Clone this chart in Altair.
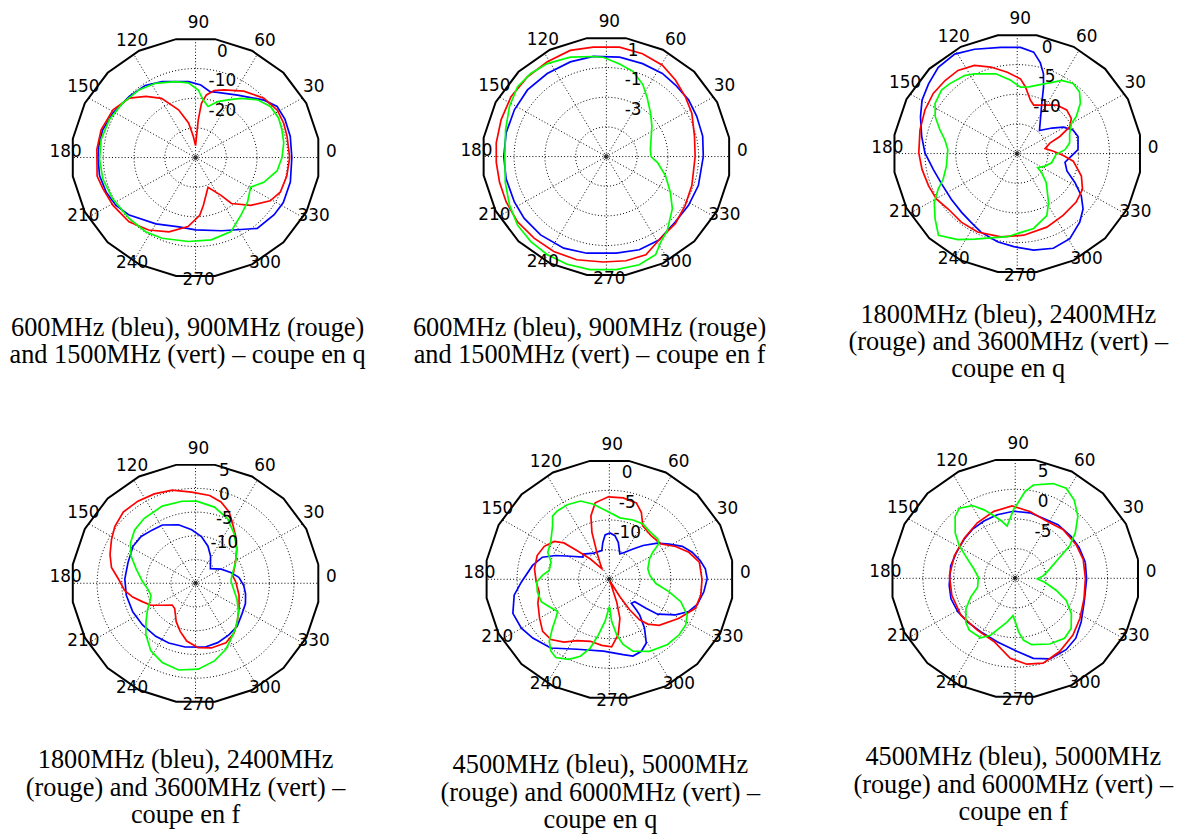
import altair as alt
import pandas as pd

# ---------------- grid / labels ----------------
ANGLE_TICKS = [0, 30, 60, 90, 120, 150, 180, 210, 240, 270, 300, 330]
RING_ANGLES = list(range(0, 361, 3))
OUTER_ANGLES = [9 + 18 * k for k in range(21)]
SERIES = ["bleu", "rouge", "vert"]
COLORS = ["#0000ff", "#ff0000", "#00ff00"]

# ---------------- panel 1 : 600/900/1500 MHz, coupe en q ----------------
P1_BLUE_ANG = [0, 13, 24, 33, 41, 57, 72, 78, 86, 95, 113, 124, 136, 151, 163, 173, 180, 191, 202, 212, 222, 240, 257, 270, 289, 310, 323, 332, 345]
P1_BLUE_DB = [1.3, 1.6, 1.8, 1.6, -0.5, -4.9, -6.9, -7.3, -5.5, -4.3, -2.2, -0.7, -0.2, 0.8, 1.6, 1.7, 1.7, 1.8, 1.3, 0.5, -1.0, -4.2, -6.0, -5.6, -3.9, 1.2, 2.0, 2.3, 1.9]
P1_RED_ANG = [0, 13.7, 22, 31, 42, 55, 68, 75, 80.5, 84, 86, 87.5, 90, 96, 101, 109, 119, 128, 137, 149, 163, 175, 191, 199, 211, 225, 238, 251, 264, 274, 279, 292, 303, 307, 318, 329, 337, 348]
P1_RED_DB = [0.6, 0.6, 0.9, 1.0, -0.1, -2.7, -5.4, -6.6, -8.6, -11.6, -17.2, -22.8, -26.0, -22.7, -18.1, -13.0, -7.2, -3.8, -0.6, 1.3, 2.1, 2.2, 2.6, 1.9, 1.3, 0.6, -1.2, -3.5, -6.6, -10.5, -13.7, -19.2, -14.8, -10.6, -5.9, -1.7, -0.1, 0.3]
P1_GREEN_ANG = [0, 9.9, 18.6, 26.3, 35.3, 44, 53.6, 61.7, 69, 76.7, 82.8, 87.8, 95.3, 104.5, 117.5, 128.9, 142.3, 155.5, 168.7, 181, 193.5, 207.3, 223.6, 237, 248.2, 265.3, 280.4, 294.8, 307.2, 318.4, 330.9, 339.4, 350.5]
P1_GREEN_DB = [-1.9, -0.9, -0.4, 0.1, -0.2, -2.0, -5.2, -7.9, -9.8, -12.3, -10.4, -7.2, -4.7, -3.6, -1.8, -0.7, 0.0, 0.8, 1.3, 1.2, 1.0, 0.3, -0.2, -0.2, -0.7, -1.6, -1.8, -2.5, -5.6, -7.4, -9.5, -6.3, -3.1]

# ---------------- panel 2 : 600/900/1500 MHz, coupe en f ----------------
P2_BLUE_ANG = [0, 12.4, 24.8, 35.6, 47, 57, 69.4, 82.7, 97.2, 110.2, 124.5, 138.8, 152.2, 166.2, 180, 193, 207.1, 218, 231, 245.8, 258.9, 275.6, 288.8, 301.3, 315.6, 328.4, 341.9]
P2_BLUE_DB = [1.3, 1.41, 1.47, 1.57, 1.59, 1.68, 1.69, 1.76, 1.81, 1.8, 1.79, 1.82, 1.76, 1.71, 1.67, 1.69, 1.72, 1.78, 1.8, 1.77, 1.64, 1.54, 1.64, 1.58, 1.28, 1.27, 1.29]
P2_RED_ANG = [0, 13.5, 27.8, 38.3, 49, 59.4, 71.3, 83.4, 96.6, 108.2, 121, 133.6, 146.9, 160, 172.6, 183.2, 194, 205.2, 217.3, 229.5, 241.9, 254.5, 268.3, 280.3, 291.2, 302.6, 314.9, 327.3, 340.6]
P2_RED_DB = [0.77, 0.89, 1.28, 1.53, 1.84, 2.15, 2.32, 2.42, 2.42, 2.53, 2.45, 2.43, 2.4, 2.28, 2.22, 2.17, 2.16, 2.2, 2.26, 2.24, 2.26, 2.22, 2.11, 2.14, 2.1, 1.54, 1.36, 1.09, 0.89]
P2_GREEN_ANG = [0, 9.6, 34.7, 45.5, 56.6, 64, 73.3, 82.2, 91.8, 97.2, 109.3, 121.5, 131.3, 140.8, 151.8, 164.5, 179.6, 194.8, 207.5, 218.7, 229.4, 239.9, 250.6, 262, 274.8, 286.3, 295.8, 301.6, 308, 320.6, 330, 341.5, 353]
P2_GREEN_DB = [-2.1, -2.1, -1.4, -0.9, -0.2, 0.4, 1.0, 1.3, 1.7, 1.8, 2.1, 2.35, 2.45, 2.45, 2.15, 1.8, 1.6, 1.8, 2.1, 2.4, 2.55, 2.65, 2.7, 2.7, 2.65, 2.6, 2.35, 1.75, 1.4, 0.55, -0.2, -0.95, -1.65]

# ---------------- panel 3 : 1800/2400/3600 MHz, coupe en q ----------------
P3_BLUE_ANG = [3.9, 16.3, 23.8, 30.7, 37.3, 47, 64.6, 69.1, 72.4, 76.3, 81.1, 88.3, 98.5, 111.5, 121.2, 131.4, 140.8, 149.8, 158.5, 169.4, 179.6, 191, 202.8, 215.7, 227.4, 237.1, 246, 257.8, 268, 279.3, 290.2, 300.8, 311.3, 318.9, 325.7, 332.4, 340, 349.4, 357.1]
P3_BLUE_DB = [-5.1, -4.7, -5.1, -6.3, -7.9, -9.7, -5.7, -3.0, -0.9, 0.8, 2.3, 2.9, 3.1, 3.9, 4.6, 4.4, 3.6, 2.9, 1.9, 0.8, 0.0, -1.1, -1.7, -1.8, -1.6, -1.2, -0.5, 0.2, 0.7, 1.5, 2.0, 1.7, 0.4, -0.8, -2.4, -4.4, -6.4, -7.1, -6.2]
P3_RED_ANG = [3.8, 10.4, 18.4, 22.6, 28, 34, 42.5, 51.9, 62.4, 71.9, 76.6, 83.2, 87.6, 96.7, 106.4, 115.1, 124.5, 133.6, 143.4, 153.9, 165.8, 179.6, 189.8, 200.7, 210.4, 219.8, 231.8, 244, 259.3, 274.4, 291.2, 305.6, 319.5, 330.4, 340, 352, 357.4]
P3_RED_DB = [-9.1, -10.4, -9.4, -7.5, -5.3, -4.4, -4.1, -4.6, -5.8, -6.4, -5.75, -3.7, -2.4, -1.2, 0.2, 1.4, 2.0, 2.0, 2.0, 1.7, 1.3, 1.0, 0.7, 0.4, 0.2, -0.4, -0.3, -0.3, -0.7, -1.2, -1.7, -2.2, -2.4, -2.8, -3.9, -5.8, -7.5]
P3_GREEN_ANG = [4.9, 11.8, 22, 30.1, 32.9, 39.5, 45.7, 52.4, 59.7, 64, 72.2, 80.5, 87.3, 94.9, 104.5, 117.3, 123, 132.9, 139, 147.7, 155, 162.3, 168.8, 176.6, 190.4, 199.8, 205.1, 211.4, 219.5, 227.1, 236.4, 244.3, 263.5, 281.9, 294.7, 301.7, 313.9, 321.1, 324.2, 335, 344.5, 358.5]
P3_GREEN_DB = [-7.2, -6.3, -5.8, -4.8, -3.6, -1.7, -0.5, -0.1, -0.7, -1.6, -2.8, -3.6, -3.8, -2.6, -1.1, 0.1, 0.7, 1.1, 1.3, 0.8, -0.3, -1.8, -3.0, -3.7, -3.3, -2.2, -0.8, 0.8, 2.3, 3.8, 2.4, 1.0, -0.9, -2.1, -3.5, -5.3, -8.2, -9.9, -10.9, -10.0, -9.2, -8.7]

# ---------------- panel 4 : 1800/2400/3600 MHz, coupe en f ----------------
P4_BLUE_ANG = [8, 17.6, 29.8, 45.5, 62, 72.1, 83.1, 94, 105.7, 118.8, 127.9, 138.3, 148.5, 162.4, 176.4, 190.3, 205.2, 219.2, 234.1, 246.6, 261, 277.9, 289.8, 302.2, 313, 326.2, 337.1, 347.7, 357.2]
P4_BLUE_DB = [-6.1, -7.5, -9.0, -10.7, -8.5, -6.8, -5.1, -3.7, -2.2, -1.0, -0.75, -0.2, -0.1, -0.6, -0.6, -0.7, -0.9, -1.1, -1.2, -1.3, -1.4, -1.4, -1.7, -2.2, -2.6, -3.6, -4.0, -4.6, -5.2]
P4_RED_ANG = [1.5, 11.9, 20.7, 31.7, 40.4, 50.4, 59.3, 65.6, 73.2, 81.2, 92.4, 103.6, 114, 124.1, 134.4, 143.9, 151.7, 160.8, 169, 176.7, 186, 192.8, 200.1, 207, 214.4, 224, 231.4, 244.1, 252.9, 261.6, 272.2, 283.2, 296.2, 306.7, 316.4, 329, 343.9]
P4_RED_DB = [-6.8, -7.3, -6.6, -5.4, -4.0, -2.2, -0.3, 1.5, 2.9, 3.7, 4.2, 5.2, 5.6, 5.9, 6.0, 5.3, 4.4, 3.4, 2.4, 0.7, -0.5, -1.9, -3.6, -4.8, -6.8, -8.4, -8.2, -6.0, -4.4, -2.7, -1.4, -1.0, -1.0, -1.9, -3.3, -4.7, -5.8]
P4_GREEN_ANG = [4.4, 14.4, 28, 40.4, 53.4, 64.6, 76.5, 89.3, 99.1, 112.6, 127.3, 137.8, 147.4, 156.3, 166.2, 178.9, 186.9, 195.7, 202.9, 210.1, 218.7, 227, 237.5, 247.9, 259.3, 271.7, 283.2, 293.9, 303.9, 313.7, 325.4, 338.8, 351.3]
P4_GREEN_DB = [-7.8, -7.3, -5.8, -4.0, -1.9, 0.1, 1.5, 2.3, 2.5, 2.6, 2.2, 1.7, 0.7, -0.7, -2.6, -4.3, -5.2, -5.6, -4.9, -3.7, -2.1, -0.2, 1.9, 3.0, 3.6, 3.1, 1.8, 0.2, -1.6, -2.9, -4.4, -6.0, -7.2]

# ---------------- panel 5 : 4500/5000/6000 MHz, coupe en q ----------------
P5_BLUE_ANG = [0.4, 6.5, 12.1, 18.7, 25.1, 31.4, 37.9, 46.1, 53, 61.1, 68.2, 76.9, 83, 89.2, 95.3, 99.7, 104.3, 120, 135, 138.9, 148.3, 155.3, 161.1, 169.4, 181.8, 189.8, 200.1, 209.9, 218.5, 230.5, 246.1, 265.5, 280, 286.5, 293.2, 299.2, 304.8, 309.3, 310.3, 311.4, 317.4, 320.7, 323.1, 330.9, 337.2, 343.5, 352.2]
P5_BLUE_DB = [0.9, 0.7, 0.1, -0.8, -1.9, -3.6, -5.1, -7.1, -8.6, -9.8, -10.4, -8.6, -7.6, -7.2, -7.5, -8.7, -10.0, -9.9, -9.0, -9.3, -7.6, -5.4, -3.5, -2.3, -0.7, 0.7, 1.7, 1.5, 0.9, 0.0, -2.1, -2.85, -2.1, -1.5, -1.8, -2.7, -5.0, -7.2, -8.2, -9.6, -9.4, -7.3, -5.2, -2.7, -1.0, -0.1, 0.5]
P5_RED_ANG = [0, 11.2, 19.4, 27.2, 35.3, 47.3, 58.8, 65.2, 71.2, 80.7, 90.7, 100.1, 105.7, 109.7, 114, 124.6, 132, 137.3, 140.3, 144.5, 152.3, 161.2, 171.7, 182.1, 190.5, 199.2, 210, 219, 226.9, 235.1, 243.1, 253.5, 263.7, 271.9, 278.8, 284.6, 287.3, 287.6, 300.2, 302.7, 305.7, 309.6, 316.2, 329.9, 340.7, 349.9]
P5_RED_DB = [0.06, -0.1, -1.3, -2.9, -4.7, -5.0, -4.5, -2.6, -1.4, -1.1, -1.1, -1.9, -3.9, -6.6, -10.0, -12.8, -10.4, -7.9, -5.4, -4.0, -3.05, -2.6, -2.7, -3.1, -3.4, -2.7, -1.9, -1.05, -1.1, -2.1, -3.4, -4.1, -3.8, -3.6, -5.6, -8.2, -11.0, -14.65, -11.6, -8.9, -6.6, -5.2, -3.8, -1.9, -0.2, 0.1]
P5_GREEN_ANG = [5.8, 15.9, 27.9, 32.9, 36.6, 40.8, 51.4, 59.6, 69, 80.6, 92.1, 101.5, 109.6, 118.5, 126.3, 130.9, 135.7, 146.8, 155.6, 163.1, 171.3, 176.5, 182.2, 190.2, 198.8, 205.3, 212.8, 217, 221.7, 226.9, 231.9, 236.6, 244, 250, 255, 259.3, 264.4, 270, 273, 277.2, 281.5, 287.6, 298.3, 310.7, 320.5, 328.2, 334.6, 342, 347.7, 354.6]
P5_GREEN_DB = [-8.4, -8.5, -7.6, -6.6, -5.0, -4.6, -4.6, -4.2, -4.3, -4.5, -3.5, -2.1, -1.0, -0.7, -0.7, -0.9, -2.1, -3.6, -4.0, -5.1, -5.1, -4.1, -3.2, -3.1, -3.3, -4.2, -5.0, -4.1, -2.6, -0.7, 0.4, 0.8, 0.0, -1.2, -3.0, -5.5, -7.9, -10.4, -7.9, -5.6, -3.8, -2.3, -1.2, -0.5, -0.3, -0.4, -1.0, -2.8, -5.05, -7.4]

# ---------------- panel 6 : 4500/5000/6000 MHz, coupe en f ----------------
P6_BLUE_ANG = [13.2, 26.4, 38, 52.5, 65.9, 77.7, 91.4, 105.3, 117.8, 130.2, 141.6, 155.7, 168.7, 186.5, 198.3, 211.2, 223.4, 238, 254.6, 271.2, 282.3, 292.5, 304.5, 314.3, 325.5, 340.4, 359.4]
P6_BLUE_DB = [1.7, 1.6, 1.5, 1.4, 1.1, 1.3, 1.3, 1.1, 0.9, 0.8, 0.6, 0.5, 0.7, 0.8, 1.0, 0.9, 0.7, 0.6, 1.1, 2.3, 3.8, 4.7, 4.6, 4.1, 3.0, 1.9, 1.6]
P6_RED_ANG = [0, 16.2, 30, 46.7, 62.2, 78, 92.5, 107.1, 123.4, 140.5, 159, 177.6, 195.6, 215.2, 234.8, 252, 266.6, 277.4, 287.6, 300.3, 314.4, 327.2, 342.9]
P6_RED_DB = [1.4, 1.5, 1.4, 1.3, 0.9, 1.5, 2.2, 1.8, 1.2, 0.7, 0.6, 0.7, 0.7, 0.8, 0.7, 1.2, 3.5, 4.6, 5.0, 4.3, 3.4, 2.5, 1.7]
P6_GREEN_ANG = [5.6, 15.5, 25.9, 31.7, 38.1, 45.8, 54, 61.4, 69, 79.4, 83.8, 88.8, 91.3, 94.5, 98.6, 102.5, 108.2, 113.7, 119.6, 127.5, 133.1, 141.9, 149, 157.4, 166.9, 178.4, 193.7, 203.7, 212.5, 222.5, 229.4, 240.7, 247.3, 252.5, 259.7, 266.6, 270, 273.4, 277.3, 283.4, 296.8, 308.4, 317.1, 326.8, 335.8, 342.9, 352.1, 358.2]
P6_GREEN_DB = [-5.4, -4.2, -2.0, 0.4, 2.4, 4.6, 6.3, 7.3, 7.1, 6.0, 4.7, 2.4, 1.6, 0.2, -1.1, -0.2, 1.1, 2.6, 4.1, 4.9, 4.3, 2.4, 0.6, -1.6, -3.1, -4.0, -3.7, -2.1, -0.5, 0.9, 1.5, 1.5, 0.4, -1.1, -2.5, -3.7, -2.7, -1.0, 0.5, 1.5, 2.4, 2.9, 2.4, 0.9, -0.9, -3.0, -5.15, -6.4]

CAPTIONS = [
    ["600MHz (bleu), 900MHz (rouge)", "and 1500MHz (vert) \u2013 coupe en q"],
    ["600MHz (bleu), 900MHz (rouge)", "and 1500MHz (vert) \u2013 coupe en f"],
    ["1800MHz (bleu), 2400MHz", "(rouge) and 3600MHz (vert) \u2013", "coupe en q"],
    ["1800MHz (bleu), 2400MHz", "(rouge) and 3600MHz (vert) \u2013", "coupe en f"],
    ["4500MHz (bleu), 5000MHz", "(rouge) and 6000MHz (vert) \u2013", "coupe en q"],
    ["4500MHz (bleu), 5000MHz", "(rouge) and 6000MHz (vert) \u2013", "coupe en f"],
]

PANELS = [
    dict(rmin=-30, rmax=10, rings=[-20, -10, 0], labels=["-20", "-10", "0"],
         curves=[(P1_BLUE_ANG, P1_BLUE_DB), (P1_RED_ANG, P1_RED_DB), (P1_GREEN_ANG, P1_GREEN_DB)],
         cap_dx=-8, cap_off=15, lab_dx=27, sx=0, sy=0),
    dict(rmin=-5, rmax=3, rings=[-3, -1, 1], labels=["-3", "-1", "1"],
         curves=[(P2_BLUE_ANG, P2_BLUE_DB), (P2_RED_ANG, P2_RED_DB), (P2_GREEN_ANG, P2_GREEN_DB)],
         cap_dx=-17, cap_off=15, lab_dx=27, sx=0, sy=-1),
    dict(rmin=-15, rmax=5, rings=[-10, -5, 0], labels=["-10", "-5", "0"],
         curves=[(P3_BLUE_ANG, P3_BLUE_DB), (P3_RED_ANG, P3_RED_DB), (P3_GREEN_ANG, P3_GREEN_DB)],
         cap_dx=-9, cap_off=2, lab_dx=30, sx=0, sy=-4),
    dict(rmin=-15, rmax=10, rings=[-10, -5, 0, 5], labels=["-10", "-5", "0", "5"],
         curves=[(P4_BLUE_ANG, P4_BLUE_DB), (P4_RED_ANG, P4_RED_DB), (P4_GREEN_ANG, P4_GREEN_DB)],
         cap_dx=-10, cap_off=22, lab_dx=29, sx=0, sy=0),
    dict(rmin=-15, rmax=5, rings=[-10, -5, 0], labels=["-10", "-5", "0"],
         curves=[(P5_BLUE_ANG, P5_BLUE_DB), (P5_RED_ANG, P5_RED_DB), (P5_GREEN_ANG, P5_GREEN_DB)],
         cap_dx=-6, cap_off=27, lab_dx=18, sx=3, sy=-4),
    dict(rmin=-10, rmax=10, rings=[-5, 0, 5], labels=["-5", "0", "5"],
         curves=[(P6_BLUE_ANG, P6_BLUE_DB), (P6_RED_ANG, P6_RED_DB), (P6_GREEN_ANG, P6_GREEN_DB)],
         cap_dx=-4, cap_off=19, lab_dx=28, sx=-2, sy=-5),
]

# ---------------- layout constants ----------------
PW, PH = 310, 287          # plot area per panel
XR, YR = 1.25, 1.2         # half-domain (outer ring = 1)
PXX, PXY = PW / (2 * XR), PH / (2 * YR)
OUTER_R = 1.01
LABEL_R = 1.08
AX_FONT = "DejaVu Sans"
CAP_FONT = "Liberation Serif"

POLAR_X = "datum.rn * cos(datum.angle * PI / 180)"
POLAR_Y = "datum.rn * sin(datum.angle * PI / 180)"


def panel_chart(i, p):
    span = p["rmax"] - p["rmin"]
    rn_expr = f"(datum.db - ({p['rmin']})) / {span}"
    xs = alt.Scale(domain=[-XR - p["sx"] / PXX, XR - p["sx"] / PXX], nice=False, zero=False)
    ys = alt.Scale(domain=[-YR + p["sy"] / PXY, YR + p["sy"] / PXY], nice=False, zero=False)

    def X(f):
        return alt.X(f"{f}:Q", scale=xs, axis=None)

    def Y(f):
        return alt.Y(f"{f}:Q", scale=ys, axis=None)

    # dotted rings
    ring_df = pd.DataFrame([
        {"ring": r, "k": k, "angle": a, "db": r}
        for r in p["rings"] for k, a in enumerate(RING_ANGLES)
    ])
    rings = (alt.Chart(ring_df)
             .transform_calculate(rn=rn_expr)
             .transform_calculate(x=POLAR_X, y=POLAR_Y)
             .mark_line(stroke="black", strokeWidth=1, strokeDash=[1, 2.2])
             .encode(x=X("x"), y=Y("y"), detail="ring:N", order="k:Q"))

    # dotted spokes
    spoke_df = pd.DataFrame({"angle": ANGLE_TICKS})
    spokes = (alt.Chart(spoke_df)
              .transform_calculate(rn="1", x0="0", y0="0")
              .transform_calculate(x=POLAR_X, y=POLAR_Y)
              .mark_rule(color="black", strokeWidth=1, strokeDash=[1, 2.2])
              .encode(x=X("x0"), y=Y("y0"), x2="x:Q", y2="y:Q"))

    # outer frame
    outer_df = pd.DataFrame({"angle": OUTER_ANGLES, "k": list(range(len(OUTER_ANGLES)))})
    outer = (alt.Chart(outer_df)
             .transform_calculate(rn=str(OUTER_R))
             .transform_calculate(x=POLAR_X, y=POLAR_Y)
             .mark_line(color="black", strokeWidth=2)
             .encode(x=X("x"), y=Y("y"), order="k:Q"))

    # centre marker
    centre_df = pd.DataFrame({"angle": [0], "db": [p["rmin"]]})
    centre = (alt.Chart(centre_df)
              .transform_calculate(rn=rn_expr)
              .transform_calculate(x=POLAR_X, y=POLAR_Y)
              .mark_point(shape="circle", filled=False, size=14, color="black", strokeWidth=1, opacity=1)
              .encode(x=X("x"), y=Y("y")))

    # curves
    rows = []
    for name, (angs, dbs) in zip(SERIES, p["curves"]):
        pts = list(zip(angs, dbs))
        pts.append(pts[0])
        for k, (a, d) in enumerate(pts):
            rows.append({"series": name, "k": k, "angle": a, "db": d})
    curve_df = pd.DataFrame(rows)
    curves = (alt.Chart(curve_df)
              .transform_calculate(rn=rn_expr)
              .transform_calculate(x=POLAR_X, y=POLAR_Y)
              .mark_line(strokeWidth=1.7)
              .encode(x=X("x"), y=Y("y"), order="k:Q",
                      color=alt.Color("series:N", scale=alt.Scale(domain=SERIES, range=COLORS), legend=None)))

    # angle labels
    alab_df = pd.DataFrame({"angle": ANGLE_TICKS, "label": [str(a) for a in ANGLE_TICKS]})
    alabels = (alt.Chart(alab_df)
               .transform_calculate(rn=str(LABEL_R))
               .transform_calculate(x=POLAR_X, y=POLAR_Y)
               .mark_text(font=AX_FONT, fontSize=17, color="black", align="center",
                          baseline="middle", dx=3, dy=-6)
               .encode(x=X("x"), y=Y("y"), text="label:N"))

    # ring value labels
    rlab_df = pd.DataFrame({"db": p["rings"], "label": p["labels"], "angle": [90] * len(p["rings"])})
    rlabels = (alt.Chart(rlab_df)
               .transform_calculate(rn=rn_expr)
               .transform_calculate(x=POLAR_X, y=POLAR_Y)
               .mark_text(font=AX_FONT, fontSize=17, color="black", align="center",
                          baseline="middle", dx=p["lab_dx"], dy=-17)
               .encode(x=X("x"), y=Y("y"), text="label:N"))

    return alt.layer(rings, spokes, outer, centre, curves, alabels, rlabels).properties(
        width=PW, height=PH,
        title=alt.TitleParams(text=CAPTIONS[i], orient="bottom", anchor="middle",
                              font=CAP_FONT, fontSize=26.5, fontWeight="normal",
                              lineHeight=27.5, color="black", dx=p["cap_dx"],
                              offset=p["cap_off"], baseline="top"),
    )


charts = [panel_chart(i, p) for i, p in enumerate(PANELS)]
row1 = alt.hconcat(charts[0], charts[1], charts[2], spacing=104, bounds="flush")
row2 = alt.hconcat(charts[3], charts[4], charts[5], spacing=104, bounds="flush")
chart = (alt.vconcat(row1, row2, spacing=52)
         .properties(padding={"left": 1, "top": -1, "right": 2, "bottom": 0}, background="white")
         .configure_view(stroke=None))

chart.save("out.html", embed_options={"renderer": "svg", "actions": False})
